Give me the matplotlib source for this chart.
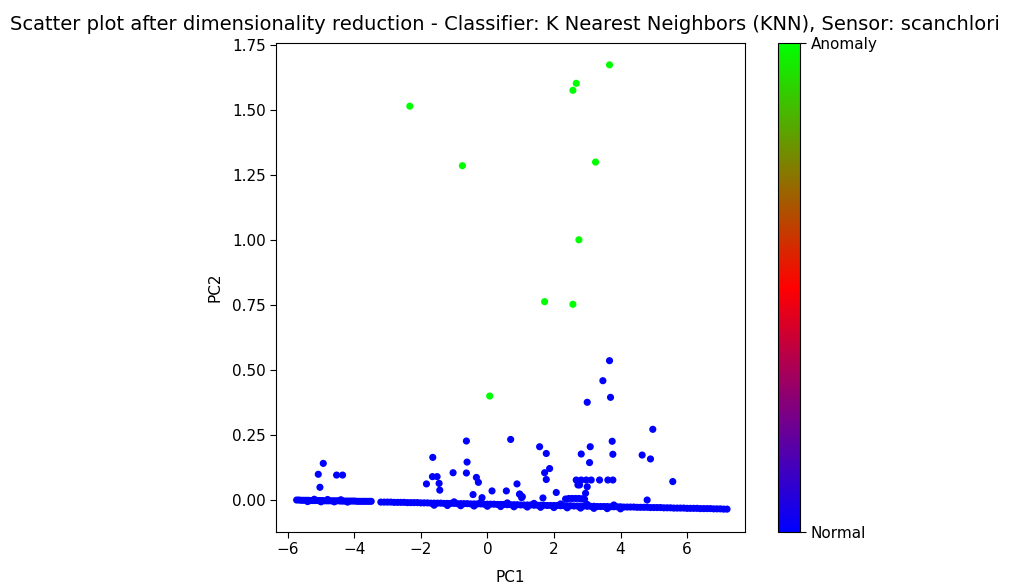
import matplotlib
matplotlib.use("Agg")
import matplotlib.pyplot as plt
from matplotlib.colors import LinearSegmentedColormap, Normalize
from matplotlib.cm import ScalarMappable

# ---- data ----
# dense band of normal points (left segment)
band1_x = [-5.73, -5.66, -5.59, -5.52, -5.45, -5.38, -5.31, -5.24, -5.17, -5.10,
           -5.03, -4.96, -4.89, -4.82, -4.75, -4.68, -4.61, -4.54, -4.47, -4.40,
           -4.33, -4.26, -4.19, -4.12, -4.05, -3.98, -3.91, -3.84, -3.77, -3.70,
           -3.63, -3.56, -3.49,
           -5.40, -5.20, -5.00, -4.80, -4.60, -4.40, -4.20]
band1_y = [0.000, 0.000, -0.001, -0.001, -0.001, -0.001, -0.002, -0.002, -0.002, -0.002,
           -0.002, -0.002, -0.003, -0.003, -0.003, -0.003, -0.003, -0.003, -0.003, -0.004,
           -0.004, -0.004, -0.004, -0.004, -0.004, -0.004, -0.005, -0.005, -0.005, -0.005,
           -0.005, -0.005, -0.005,
           -0.006, 0.003, -0.007, 0.002, -0.007, 0.001, -0.008]

# dense band of normal points (right segment)
band2_x = [-3.2, -3.1, -3.0, -2.9, -2.8, -2.7, -2.6, -2.5, -2.4, -2.3,
           -2.2, -2.1, -2.0, -1.9, -1.8, -1.7, -1.6, -1.5, -1.4, -1.3,
           -1.2, -1.1, -1.0, -0.9, -0.8, -0.7, -0.6, -0.5, -0.4, -0.3,
           -0.2, -0.1, 0.0, 0.1, 0.2, 0.3, 0.4, 0.5, 0.6, 0.7,
           0.8, 0.9, 1.0, 1.1, 1.2, 1.3, 1.4, 1.5, 1.6, 1.7,
           1.8, 1.9, 2.0, 2.1, 2.2, 2.3, 2.4, 2.5, 2.6, 2.7,
           2.8, 2.9, 3.0, 3.1, 3.2, 3.3, 3.4, 3.5, 3.6, 3.7,
           3.8, 3.9, 4.0, 4.1, 4.2, 4.3, 4.4, 4.5, 4.6, 4.7,
           4.8, 4.9, 5.0, 5.1, 5.2, 5.3, 5.4, 5.5, 5.6, 5.7,
           5.8, 5.9, 6.0, 6.1, 6.2, 6.3, 6.4, 6.5, 6.6, 6.7,
           6.8, 6.9, 7.0, 7.1, 7.2]
band2_y = [-0.008, -0.008, -0.008, -0.008, -0.009, -0.009, -0.009, -0.009, -0.010, -0.010,
           -0.010, -0.010, -0.011, -0.011, -0.011, -0.012, -0.012, -0.012, -0.012, -0.013,
           -0.013, -0.013, -0.013, -0.014, -0.014, -0.014, -0.014, -0.015, -0.015, -0.015,
           -0.015, -0.016, -0.016, -0.016, -0.016, -0.017, -0.017, -0.017, -0.018, -0.018,
           -0.018, -0.018, -0.019, -0.019, -0.019, -0.019, -0.020, -0.020, -0.020, -0.020,
           -0.021, -0.021, -0.021, -0.021, -0.022, -0.022, -0.022, -0.022, -0.023, -0.023,
           -0.023, -0.023, -0.024, -0.024, -0.024, -0.025, -0.025, -0.025, -0.025, -0.026,
           -0.026, -0.026, -0.026, -0.027, -0.027, -0.027, -0.027, -0.028, -0.028, -0.028,
           -0.028, -0.029, -0.029, -0.029, -0.029, -0.030, -0.030, -0.030, -0.031, -0.031,
           -0.031, -0.031, -0.032, -0.032, -0.032, -0.032, -0.033, -0.033, -0.033, -0.033,
           -0.034, -0.034, -0.034, -0.035, -0.035]

# thicker parts of the right band
band3_x = [-1.6, -1.2, -0.8, -0.4, 0.0, 0.4, 0.8, 1.2, 1.6, 2.0, 2.4, 2.8, 3.2, 3.6, 4.0,
           -1.0, -0.2, 0.6, 1.4, 2.2, 3.0, 3.8,
           2.35, 2.45, 2.55, 2.65, 2.75, 2.85, 2.92]
band3_y = [-0.020, -0.021, -0.022, -0.023, -0.024, -0.025, -0.026, -0.027, -0.028, -0.029, -0.030, -0.031, -0.032, -0.033, -0.034,
           -0.007, -0.009, -0.011, -0.013, -0.015, -0.017, -0.019,
           0.004, 0.006, 0.006, 0.006, 0.006, 0.005, 0.003]

# scattered normal points
normal_x = [-5.08, -4.93, -5.03, -4.53, -4.35, -1.83, -1.64, -1.65, -1.51, -1.45,
            -1.43, -1.03, -0.63, -0.61, -0.63, -0.33, -0.27, -0.43, -0.16, 0.14,
            0.57, 0.70, 0.89, 0.97, 1.05, 1.57, 1.77, 1.72, 1.87, 1.77,
            1.67, 2.07, 2.82, 3.00, 3.09, 3.07, 2.67, 2.82, 2.97, 3.12,
            3.37, 3.62, 3.77, 2.77, 2.95, 3.00, 3.47, 3.67, 3.70, 3.75,
            3.77, 4.65, 4.90, 4.97, 5.57, 4.80, 0.97, 1.03, 2.72]
normal_y = [0.099, 0.141, 0.049, 0.096, 0.096, 0.062, 0.164, 0.090, 0.090, 0.064,
            0.038, 0.105, 0.227, 0.146, 0.104, 0.087, 0.068, 0.021, 0.009, 0.035,
            0.035, 0.233, 0.062, 0.023, 0.013, 0.205, 0.179, 0.105, 0.121, 0.079,
            0.008, 0.029, 0.177, 0.376, 0.205, 0.144, 0.077, 0.077, 0.077, 0.077,
            0.077, 0.077, 0.077, 0.058, 0.026, 0.051, 0.459, 0.536, 0.395, 0.226,
            0.176, 0.173, 0.158, 0.272, 0.071, 0.000, 0.022, 0.009, 0.058]

# anomalies
anomaly_x = [-2.33, -0.75, 0.07, 1.72, 2.57, 2.75, 3.25, 2.57, 2.67, 3.67]
anomaly_y = [1.515, 1.286, 0.400, 0.763, 0.753, 1.001, 1.300, 1.576, 1.603, 1.674]

title = ("Scatter plot after dimensionality reduction - Classifier: "
         "K Nearest Neighbors (KNN), Sensor: scanchlori")
cbar_labels = ["Normal", "Anomaly"]

# ---- build ----
xs = band1_x + band2_x + band3_x + normal_x + anomaly_x
ys = band1_y + band2_y + band3_y + normal_y + anomaly_y
n_normal = len(band1_x) + len(band2_x) + len(band3_x) + len(normal_x)
labels = [0] * n_normal + [1] * len(anomaly_x)

cmap = LinearSegmentedColormap.from_list("nra", ["#0000ff", "#ff0000", "#00ff00"])
norm = Normalize(0, 1)

plt.rcParams["xtick.labelsize"] = 11
plt.rcParams["ytick.labelsize"] = 11
plt.rcParams["axes.labelsize"] = 11
plt.rcParams["xtick.major.size"] = 4
plt.rcParams["ytick.major.size"] = 4

W, H = 1017, 587
fig = plt.figure(figsize=(W / 100, H / 100), dpi=100)
ax = fig.add_axes([276 / W, (H - 532) / H, 469 / W, 489 / H])
ax.scatter(xs, ys, c=labels, cmap=cmap, norm=norm, s=17)
ax.set_xlim(-6.35, 7.74)
ax.set_ylim(-0.123, 1.758)
ax.set_xticks([-6, -4, -2, 0, 2, 4, 6])
ax.set_yticks([0.0, 0.25, 0.5, 0.75, 1.0, 1.25, 1.5, 1.75])
ax.set_xlabel("PC1", labelpad=9)
ax.set_ylabel("PC2", labelpad=7)

cax = fig.add_axes([778 / W, (H - 532) / H, 22 / W, 489 / H])
cb = fig.colorbar(ScalarMappable(norm=norm, cmap=cmap), cax=cax, ticks=[0, 1])
cb.ax.set_yticklabels(cbar_labels)

fig.text(10 / W, 1 - 24 / H, title, ha="left", va="center", fontsize=14.0)

fig.savefig("out.png", dpi=100)
